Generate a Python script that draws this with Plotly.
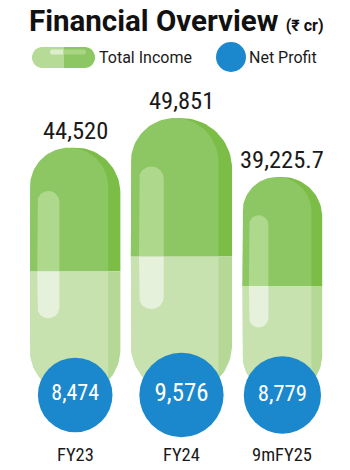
import numpy as np
import plotly.graph_objects as go

# ---- data -------------------------------------------------------------
periods = ["FY23", "FY24", "9mFY25"]
total_income = [44520, 49851, 39225.7]
net_profit = [8474, 9576, 8779]

# ---- styling / geometry constants ------------------------------------
W, H = 350, 470
BASE_PX = 395                 # pixel row of the zero line
K = 277 / 49851               # vertical px per ₹ cr
WK = 0.00203                  # capsule width px per ₹ cr
NP_DIAM = 0.0088              # circle diameter px per ₹ cr
LEFT0, GAP = 30, 10.5
NUM_FONT = "Roboto Condensed, Roboto, sans-serif"
TXT_FONT = "Roboto, Noto Sans, sans-serif"

TOP_MAIN, TOP_SHADE, TOP_HI = "#8CC763", "#7BBD47", "#AED88C"
BOT_MAIN, BOT_SHADE, BOT_HI = "#C7E2AE", "#B5D897", "#E5F1DA"
BLUE = "#1B87CC"


def arc(cx, cy, r, t0, t1, n=48):
    t = np.linspace(t0, t1, n)
    return list(cx + r * np.cos(t)), list(cy + (r / K) * np.sin(t))


def poly(fig, xs, ys, color):
    fig.add_trace(go.Scatter(x=xs, y=ys, mode="lines", fill="toself",
                             fillcolor=color, line=dict(width=0),
                             hoverinfo="skip", showlegend=False))


fig = go.Figure()

# capsule horizontal positions derived from their widths
widths = [v * WK for v in total_income]
centers, x = [], LEFT0
for w in widths:
    centers.append(x + w / 2)
    x += w + GAP

for cx, w, v in zip(centers, widths, total_income):
    L, R = cx - w / 2, cx + w / 2
    r = w / 2
    s = 0.135 * w
    Ri = R - s
    ri = (w - s) / 2
    mid = v / 2

    # upper half: shade then main body
    ax, ay = arc(cx, v - r / K, r, np.pi, 0)
    poly(fig, [L, L] + ax + [R, R], [mid, v - r / K] + ay + [v - r / K, mid], TOP_SHADE)
    ax, ay = arc(L + ri, v - ri / K, ri, np.pi, 0)
    poly(fig, [L, L] + ax + [Ri, Ri], [mid, v - ri / K] + ay + [v - ri / K, mid], TOP_MAIN)

    # lower half: shade then main body
    ax, ay = arc(cx, r / K, r, np.pi, 2 * np.pi)
    poly(fig, [L, L] + ax + [R, R], [mid, r / K] + ay + [r / K, mid], BOT_SHADE)
    axc = [min(a, Ri) for a in ax]
    poly(fig, [L, L] + axc + [Ri, Ri], [mid, r / K] + ay + [r / K, mid], BOT_MAIN)

    # highlight stripe
    SL = L + 0.08 * w
    SW = 0.245 * w
    sr = SW / 2
    SR = SL + SW
    y0, y1 = 0.31 * v, 0.825 * v
    ax, ay = arc(SL + sr, y1 - sr / K, sr, np.pi, 0)
    poly(fig, [SL, SL] + ax + [SR, SR], [mid, y1 - sr / K] + ay + [y1 - sr / K, mid], TOP_HI)
    ax, ay = arc(SL + sr, y0 + sr / K, sr, np.pi, 2 * np.pi)
    poly(fig, [SL, SL] + ax + [SR, SR], [mid, y0 + sr / K] + ay + [y0 + sr / K, mid], BOT_HI)

# net profit circles
diam = [p * NP_DIAM for p in net_profit]
fig.add_trace(go.Scatter(
    x=centers, y=[0] * len(centers), mode="markers+text",
    marker=dict(size=diam, color=BLUE, line=dict(width=0), opacity=1),
    text=[f"{p:,}" for p in net_profit], textposition="middle center",
    textfont=dict(family=NUM_FONT, size=[d * 0.295 for d in diam], color="white"),
    hoverinfo="skip", showlegend=False, cliponaxis=False))

# total income labels and period labels
for cx, v, p in zip(centers, total_income, periods):
    fig.add_annotation(x=cx, y=v, text=f"{v:,}", showarrow=False,
                       yanchor="bottom", yshift=1,
                       font=dict(family=NUM_FONT, size=24.5, color="#1a1a1a"))
    fig.add_annotation(x=cx, y=0, text=p, showarrow=False,
                       yanchor="middle", yshift=-60,
                       font=dict(family=NUM_FONT, size=18.5, color="#1a1a1a"))

# title
fig.add_annotation(xref="paper", yref="paper", x=27 / W, y=1 - 21 / H,
                   xanchor="left", yanchor="middle", showarrow=False,
                   text="<b>Financial Overview</b> <b><span style='font-size:16px'>(₹ cr)</span></b>",
                   font=dict(family=TXT_FONT, size=29.5, color="#111111"))


# legend
def pp(px, py):
    return px / W, 1 - py / H


def half_stadium(x0, x1, yc, r, side, n=24):
    """Half of a horizontal rounded bar (pixel coords) as an SVG path in paper units."""
    pts = []
    if side == "left":
        cx = x0 + r
        for t in np.linspace(np.pi / 2, 3 * np.pi / 2, n):
            pts.append((cx + r * np.cos(t), yc - r * np.sin(t)))
        pts += [(x1, yc + r), (x1, yc - r)]
    else:
        cx = x1 - r
        pts += [(x0, yc - r), (x0, yc + r)]
        for t in np.linspace(-np.pi / 2, np.pi / 2, n):
            pts.append((cx + r * np.cos(t), yc - r * np.sin(t)))
    s = []
    for i, (a, b) in enumerate(pts):
        X, Y = pp(a, b)
        s.append(("M" if i == 0 else "L") + f"{X:.5f},{Y:.5f}")
    return " ".join(s) + " Z"


icx = (32 + 95) / 2
for x0, x1, yc, rr, side, col in [
    (32, icx, 57.5, 10.5, "left", "#B6DB96"),
    (icx, 95, 57.5, 10.5, "right", TOP_MAIN),
    (50, icx, 52, 2.6, "left", "#DCEECB"),
    (icx, 86, 52, 2.6, "right", "#A9D585"),
]:
    fig.add_shape(type="path", xref="paper", yref="paper", line_width=0,
                  fillcolor=col, path=half_stadium(x0, x1, yc, rr, side))

cx0, cy0 = pp(216, 42)
cx1, cy1 = pp(246, 72)
fig.add_shape(type="circle", xref="paper", yref="paper", x0=cx0, y0=cy1, x1=cx1, y1=cy0,
              fillcolor=BLUE, line_width=0)
for tx, label in [(97, "Total Income"), (247, "Net Profit")]:
    fig.add_annotation(xref="paper", yref="paper", x=tx / W, y=1 - 57.5 / H,
                       xanchor="left", yanchor="middle", showarrow=False, text=label,
                       font=dict(family=TXT_FONT, size=16, color="#1a1a1a"))

fig.update_layout(
    width=W, height=H, margin=dict(l=0, r=0, t=0, b=0),
    paper_bgcolor="white", plot_bgcolor="white",
    xaxis=dict(range=[0, W], visible=False, fixedrange=True),
    yaxis=dict(range=[-(H - BASE_PX) / K, BASE_PX / K], visible=False, fixedrange=True),
    showlegend=False,
)

fig.write_html("out.html", include_plotlyjs=True, config={"displayModeBar": False})
